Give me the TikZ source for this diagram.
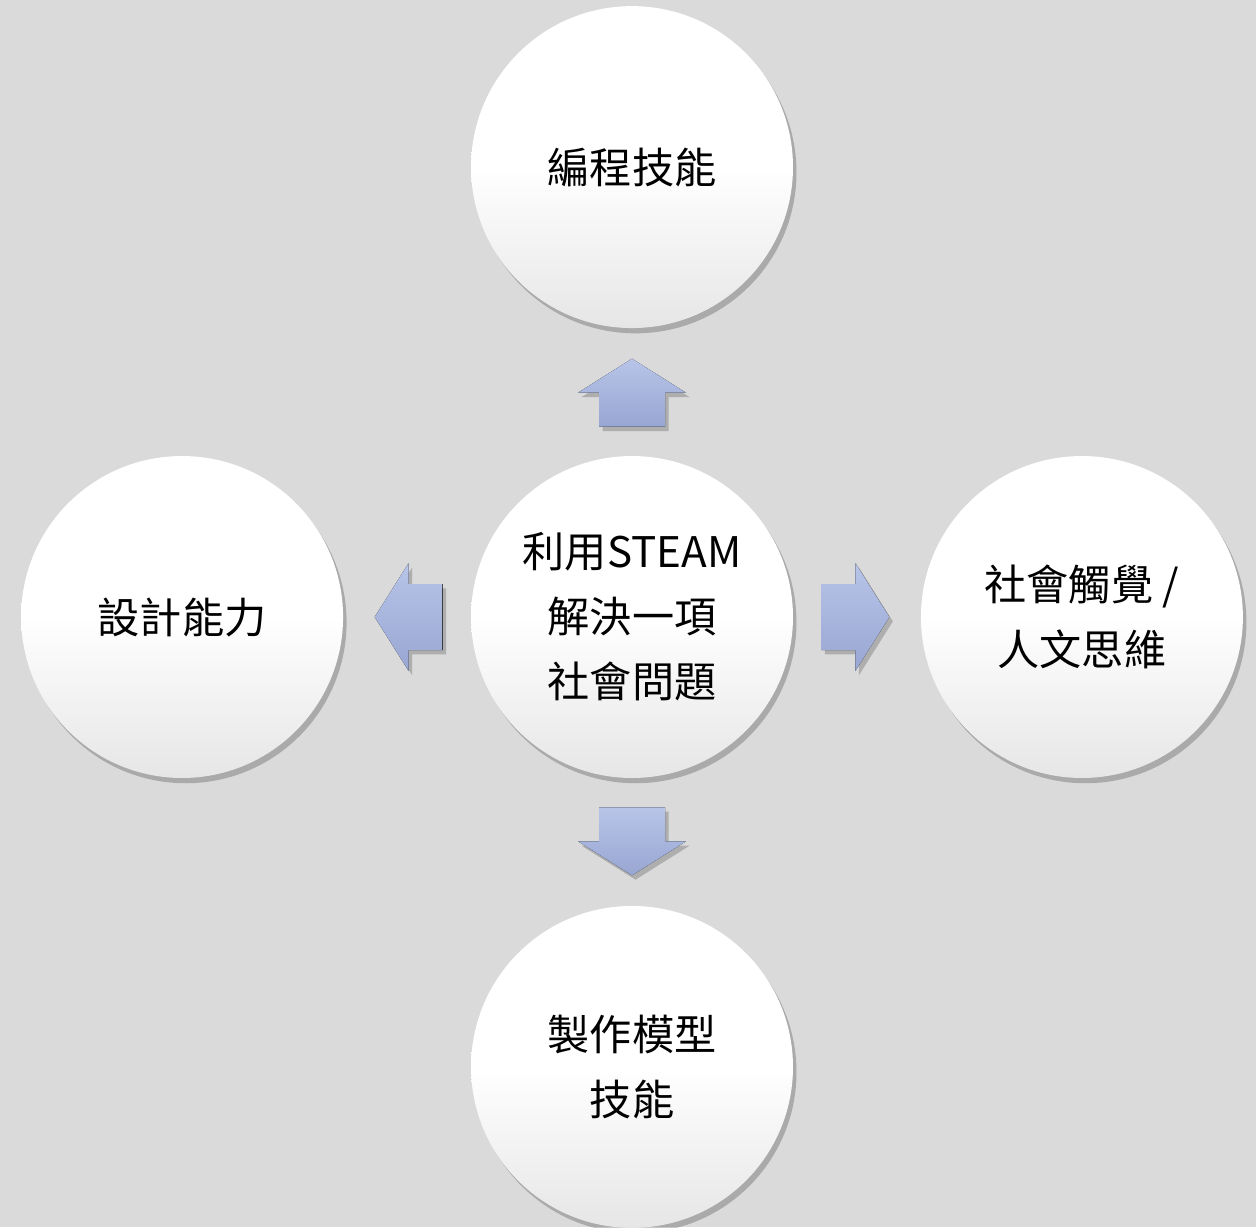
\documentclass[tikz,border=0pt]{standalone}
\usepackage{fontspec}
\newfontfamily\cjk{Noto Sans CJK TC}
\usetikzlibrary{positioning,shadows,calc}

\definecolor{bggray}{HTML}{DADADA}
\definecolor{arrowtop}{HTML}{B8C4E8}
\definecolor{arrowbot}{HTML}{98A6D2}
\definecolor{ballbot}{HTML}{E6E6E6}

\tikzset{
  ball/.style = {circle, minimum size=6.44cm, inner sep=0pt, align=center,
    font=\cjk\fontsize{24}{37}\selectfont,
    top color=white, bottom color=ballbot, middle color=white,
    drop shadow={shadow xshift=2pt, shadow yshift=-3pt, opacity=.22, fill=black}},
  blockarrow/.pic = {
    \fill[top color=arrowtop, bottom color=arrowbot,
      drop shadow={shadow xshift=2pt, shadow yshift=-2.5pt, opacity=.2, fill=black}]
      (0,-33) -- (34,-33) -- (34,-54) -- (68,0) -- (34,54) -- (34,33) -- (0,33) -- cycle;
  }
}

\begin{document}
\begin{tikzpicture}[x=0.02cm, y=-0.02cm, node distance={9cm}, on grid]
\fill[bggray] (0,0) rectangle (1256,1227);
\useasboundingbox (0,0) rectangle (1256,1227);

\node[ball] (steam) at (632,617) {利用STEAM\\解決一項\\社會問題};
\node[ball] (code) [above=of steam] {編程技能};
\node[ball] (design) [left=of steam] {設計能力};
\node[ball] (social) [right=of steam] {社會觸覺 /\\人文思維};
\node[ball] (model) [below=of steam] {製作模型\\技能};

% arrows out of the middle
\pic[rotate=90] at ($(steam.north)+(0,-29)$) {blockarrow};
\pic[rotate=180] at ($(steam.west)+(-28,0)$) {blockarrow};
\pic at ($(steam.east)+(28,0)$) {blockarrow};
\pic[rotate=-90] at ($(steam.south)+(0,29)$) {blockarrow};
\end{tikzpicture}
\end{document}
